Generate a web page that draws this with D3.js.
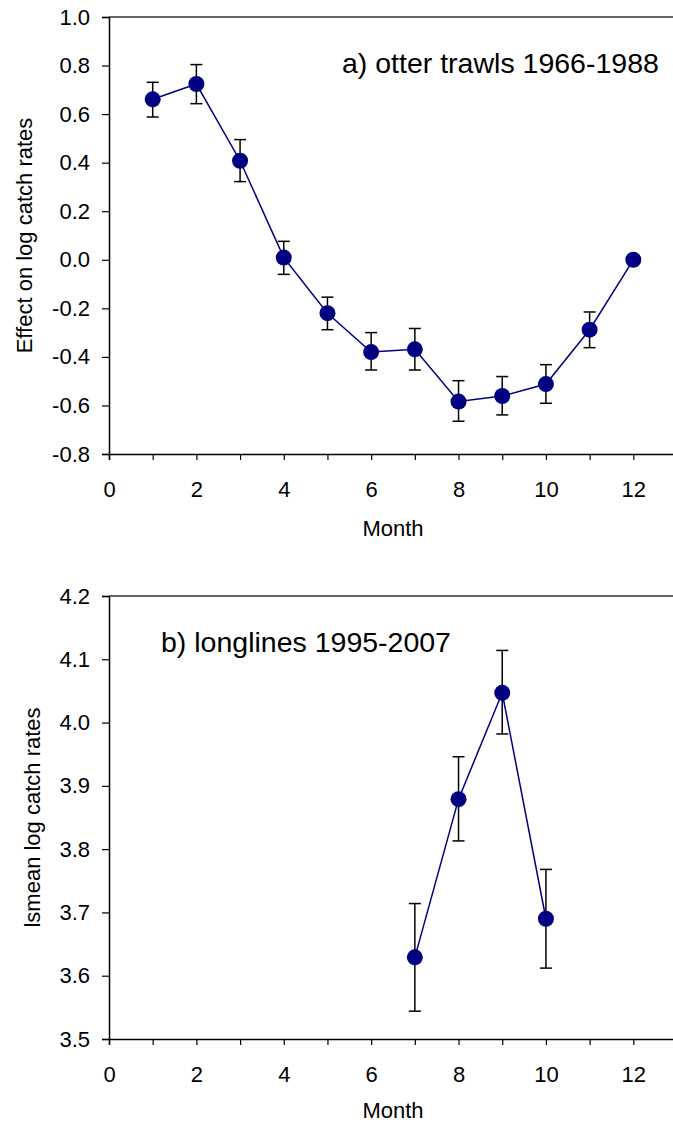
<!DOCTYPE html>
<html>
<head>
<meta charset="utf-8">
<script src="https://cdn.jsdelivr.net/npm/d3@7"></script>
<style>
  body { margin: 0; background: #fff; }
  svg { display: block; }
</style>
</head>
<body>
<div id="chart"></div>
<script>
// panel a) otter trawls
const monthsA = [1, 2, 3, 4, 5, 6, 7, 8, 9, 10, 11, 12]
const effectA = [0.661, 0.724, 0.408, 0.009, -0.220, -0.380, -0.369, -0.584, -0.561, -0.512, -0.288, 0.0]
const lowA = [0.588, 0.643, 0.322, -0.060, -0.288, -0.454, -0.454, -0.665, -0.639, -0.591, -0.362, null]
const highA = [0.731, 0.804, 0.495, 0.076, -0.154, -0.300, -0.283, -0.498, -0.481, -0.432, -0.215, null]
const yTicksA = [-0.8, -0.6, -0.4, -0.2, 0.0, 0.2, 0.4, 0.6, 0.8, 1.0]

// panel b) longlines
const monthsB = [7, 8, 9, 10]
const meanB = [3.629, 3.879, 4.047, 3.690]
const lowB = [3.544, 3.813, 3.982, 3.612]
const highB = [3.714, 3.946, 4.114, 3.768]
const yTicksB = [3.5, 3.6, 3.7, 3.8, 3.9, 4.0, 4.1, 4.2]

const xTicks = [0, 2, 4, 6, 8, 10, 12]
const xMinor = [1, 3, 5, 7, 9, 11, 13]

const width = 673, height = 1124
const font = 'Arial, "Liberation Sans", sans-serif'
const navy = '#000080'

const svg = d3.select('#chart').append('svg')
              .attr('width', width)
              .attr('height', height)
              .style('font-family', font)

function panel (cfg) {
    const xScale = d3.scaleLinear().domain([0, 13]).range([109, 677])
    const yScale = d3.scaleLinear().domain(cfg.yDomain).range([cfg.bottom, cfg.top])

    const g = svg.append('g')

    // top frame line
    g.append('line')
     .attr('x1', xScale(0)).attr('x2', width)
     .attr('y1', cfg.top).attr('y2', cfg.top)
     .attr('stroke', '#333').attr('stroke-width', 1.5)

    // y axis
    const yAxis = g.append('g')
                   .attr('transform', `translate(${xScale(0)}, 0)`)
                   .call(d3.axisLeft(yScale)
                           .tickValues(cfg.yTicks)
                           .tickFormat(d => d.toFixed(1))
                           .tickSizeOuter(0)
                           .tickSize(7)
                           .tickPadding(12))
    yAxis.selectAll('text').style('font-size', '22px').style('font-family', font).attr('fill', '#000')

    // x axis minor ticks
    g.append('g')
     .attr('transform', `translate(0, ${cfg.bottom})`)
     .call(d3.axisBottom(xScale).tickValues(xMinor).tickFormat('').tickSize(6).tickSizeOuter(0))
     .select('.domain').remove()

    // x axis
    const xAxis = g.append('g')
                   .attr('transform', `translate(0, ${cfg.bottom})`)
                   .call(d3.axisBottom(xScale)
                           .tickValues(xTicks)
                           .tickFormat(d3.format('d'))
                           .tickSizeOuter(0)
                           .tickSize(6)
                           .tickPadding(21))
    xAxis.selectAll('text').style('font-size', '22px').style('font-family', font).attr('fill', '#000')

    g.selectAll('.domain').attr('stroke', '#000').attr('stroke-width', 1.5)
    g.selectAll('.tick line').attr('stroke', '#000').attr('stroke-width', 1.2)

    // axis titles
    g.append('text')
     .attr('transform', `translate(${cfg.yTitleX}, ${(cfg.top + cfg.bottom) / 2}) rotate(-90)`)
     .attr('text-anchor', 'middle')
     .style('font-size', '22px')
     .text(cfg.yTitle)

    g.append('text')
     .attr('x', 393)
     .attr('y', cfg.bottom + cfg.monthGap)
     .attr('text-anchor', 'middle')
     .style('font-size', '22px')
     .text('Month')

    // panel label
    g.append('text')
     .attr('x', cfg.labelX)
     .attr('y', cfg.labelY)
     .style('font-size', '28.5px')
     .text(cfg.label)

    const pts = cfg.months.map((m, i) => ({ m, v: cfg.values[i], lo: cfg.low[i], hi: cfg.high[i] }))

    // error bars
    const eb = g.append('g').attr('stroke', '#000').attr('stroke-width', 1.5)
    pts.filter(d => d.lo !== null).forEach(d => {
        eb.append('line').attr('x1', xScale(d.m)).attr('x2', xScale(d.m))
          .attr('y1', yScale(d.lo)).attr('y2', yScale(d.hi))
        eb.append('line').attr('x1', xScale(d.m) - 6).attr('x2', xScale(d.m) + 6)
          .attr('y1', yScale(d.lo)).attr('y2', yScale(d.lo))
        eb.append('line').attr('x1', xScale(d.m) - 6).attr('x2', xScale(d.m) + 6)
          .attr('y1', yScale(d.hi)).attr('y2', yScale(d.hi))
    })

    // line
    const line = d3.line().x(d => xScale(d.m)).y(d => yScale(d.v))
    g.append('path')
     .datum(pts)
     .attr('d', line)
     .attr('fill', 'none')
     .attr('stroke', navy)
     .attr('stroke-width', 1.5)

    // points
    g.selectAll('circle.pt')
     .data(pts)
     .join('circle')
     .attr('class', 'pt')
     .attr('cx', d => xScale(d.m))
     .attr('cy', d => yScale(d.v))
     .attr('r', 8)
     .attr('fill', navy)
}

panel({
    top: 17, bottom: 454, yDomain: [-0.8, 1.0], yTicks: yTicksA,
    months: monthsA, values: effectA, low: lowA, high: highA,
    yTitle: 'Effect on log catch rates', yTitleX: 32, monthGap: 82,
    label: 'a) otter trawls 1966-1988', labelX: 342, labelY: 73
})

panel({
    top: 596, bottom: 1039, yDomain: [3.5, 4.2], yTicks: yTicksB,
    months: monthsB, values: meanB, low: lowB, high: highB,
    yTitle: 'lsmean log catch rates', yTitleX: 40, monthGap: 79,
    label: 'b) longlines 1995-2007', labelX: 161, labelY: 652
})
</script>
</body>
</html>
